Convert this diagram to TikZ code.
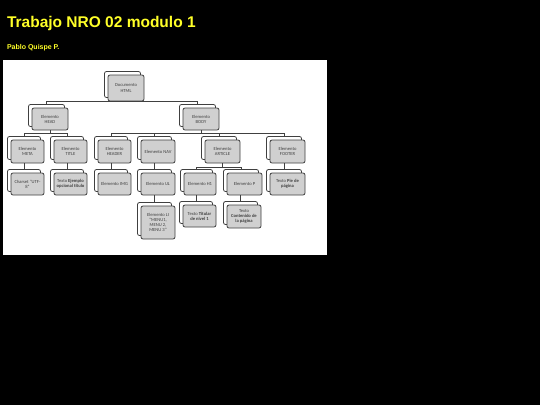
\documentclass[tikz,border=0pt]{standalone}
\usepackage{fontspec}
\setmainfont{Carlito}
\newfontfamily\headfont{Liberation Sans}
\usetikzlibrary{calc}
\definecolor{boxgray}{RGB}{208,208,208}
\definecolor{edgegray}{RGB}{64,64,64}
\definecolor{headyellow}{RGB}{255,255,40}
\tikzset{
  backbox/.style={draw=edgegray, fill=white, rounded corners=2pt, line width=0.8pt},
  frontbox/.style={draw=edgegray, fill=boxgray, rounded corners=2pt, line width=0.8pt,
    inner sep=0.5pt, align=center, text=black!75, font=\fontsize{4.6}{5.1}\selectfont},
  link/.style={draw=edgegray, line width=0.7pt},
  headtext/.style={anchor=base west, text=headyellow}
}
% \elem(name)(x,y)(w,h){text}: front face centred at (x,y), w by h
\def\elem(#1)(#2,#3)(#4,#5)#6{%
  \draw[backbox] (#2-#4/2-3.5, #3-#5/2-3.5) rectangle (#2+#4/2-3.5, #3+#5/2-3.5);
  \node[frontbox, minimum width=#4pt, minimum height=#5pt] (#1) at (#2,#3) {#6};
  \coordinate (#1-top) at (#2-3.5, #3-#5/2-3.5);}

\begin{document}
\begin{tikzpicture}[x=1pt, y=-1pt]
			%%%%% START %%%%%
			
			\useasboundingbox (0,0) rectangle (540,405);
			\fill[black] (0,0) rectangle (540,405);
			
			\node[headtext, font=\headfont\bfseries\fontsize{15.5}{17}\selectfont] (heading) at (3.5,27) {Trabajo NRO 02 modulo 1};
			\node[headtext, font=\headfont\bfseries\fontsize{7}{9}\selectfont] (author) at (3.5,49) {Pablo Quispe P.};
			
			\fill[white] (3,60) rectangle (327,255);
			
			\elem(html)(126,88)(36,26){Documento\\HTML}
			
			\elem(head)(50,119)(36,22){Elemento\\HEAD}
			\elem(body)(201,119)(36,22){Elemento\\BODY}
			
			\elem(meta)(27.5,151.5)(33,23){Elemento\\META}
			\elem(titleel)(70.5,151.5)(33,23){Elemento\\TITLE}
			\elem(header)(114.5,151.5)(33,23){Elemento\\HEADER}
			\elem(nav)(158,151.5)(34,23){Elemento NAV}
			\elem(article)(222.5,151.5)(35,23){Elemento\\ARTICLE}
			\elem(footer)(287.5,151.5)(35,23){Elemento\\FOOTER}
			
			\elem(charset)(27.5,184)(33,22){Charset "UTF-\\8"}
			\elem(sample)(70.5,184)(33,22){Texto \textbf{Ejemplo}\\\textbf{opcional título}}
			\elem(img)(114.5,184)(33,22){Elemento IMG}
			\elem(ul)(158,184)(34,22){Elemento UL}
			\elem(hone)(200,184)(32,22){Elemento H1}
			\elem(para)(244.5,184)(35,22){Elemento P}
			\elem(foot)(287.5,184)(35,22){Texto \textbf{Pie de}\\\textbf{página}}
			
			\elem(li)(158,222.5)(34,33){Elemento LI\\"MENU1,\\MENU 2,\\MENU 3"}
			\elem(headline)(199.5,216)(33,22){Texto \textbf{Titular}\\\textbf{de nivel 1}}
			\elem(content)(244,216.5)(34,23){Texto\\\textbf{Contenido de}\\\textbf{la página}}
			
			\draw[link] (head-top) |- (html.south) -| (body-top);
			
			\draw[link] (head.south) -- ++(0,3) coordinate (headbar);
			\draw[link] (meta-top) |- (headbar) -| (titleel-top);
			
			\draw[link] (body.south) -- ++(0,3) coordinate (bodybar);
			\draw[link] (header-top) |- (bodybar) -| (footer-top);
			\draw[link] (nav-top) |- (bodybar);
			\draw[link] (article-top) |- (bodybar);
			
			\draw[link] (article.south) -- ++(0,4) coordinate (articlebar);
			\draw[link] (hone-top) |- (articlebar) -| (para-top);
			
			\draw[link] (charset-top) -- (charset-top |- meta.south);
			\draw[link] (sample-top) -- (sample-top |- titleel.south);
			\draw[link] (img-top) -- (img-top |- header.south);
			\draw[link] (ul-top) -- (ul-top |- nav.south);
			\draw[link] (foot-top) -- (foot-top |- footer.south);
			\draw[link] (li-top) -- (li-top |- ul.south);
			\draw[link] (headline-top) -- (headline-top |- hone.south);
			\draw[link] (content-top) -- (content-top |- para.south);
			
			%%%%% END %%%%%
\end{tikzpicture}
\end{document}
